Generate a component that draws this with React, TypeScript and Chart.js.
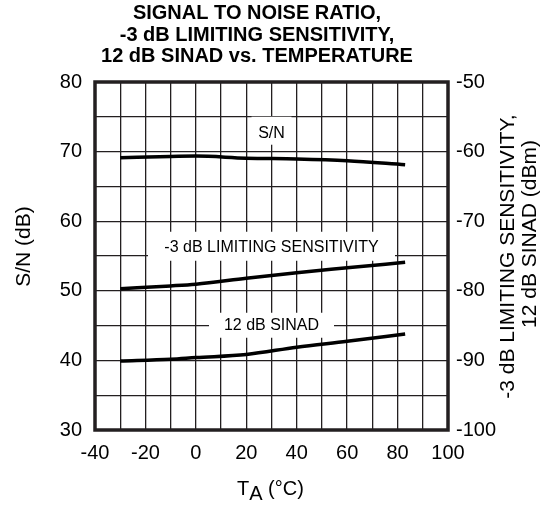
import React, { useEffect, useRef } from "react";
import { Chart, registerables } from "chart.js";

Chart.register(...registerables);

// ---- data ----
const temps = [-30, -10, 0, 20, 40, 60, 83];
const snValues = [69.1, 69.3, 69.35, 69.05, 68.95, 68.7, 68.1];
const sensValues = [-79.7, -79.3, -79.05, -78.2, -77.4, -76.7, -75.9];
const sinadValues = [-90.1, -89.85, -89.6, -89.15, -88.1, -87.25, -86.2];

const xTickLabels = [-40, -20, 0, 20, 40, 60, 80, 100];
const yLeftTickLabels = [30, 40, 50, 60, 70, 80];
const yRightTickLabels = [-100, -90, -80, -70, -60, -50];

const titleLines = [
  "SIGNAL TO NOISE RATIO,",
  "-3 dB LIMITING SENSITIVITY,",
  "12 dB SINAD vs. TEMPERATURE",
];
const leftTitle = "S/N (dB)";
const rightTitleLines = ["-3 dB LIMITING SENSITIVITY,", "12 dB SINAD (dBm)"];

const curveLabels = [
  { text: "S/N", x: 30, y: 73.0, w: 40, h: 28, ty: 133.5 },
  { text: "-3 dB LIMITING SENSITIVITY", x: 30, y: 56.4, w: 247, h: 29, ty: 247.5 },
  { text: "12 dB SINAD", x: 30, y: 45.05, w: 125, h: 25, ty: 325.5 },
];

const FONT = '"Liberation Sans", Arial, Helvetica, sans-serif';
const INK = "#231f20";

const decorPlugin = {
  id: "decor",
  beforeDatasetsDraw(chart: any) {
    const ctx = chart.ctx;
    const xs = chart.scales.x;
    const ys = chart.scales.y;
    ctx.save();
    for (const l of curveLabels) {
      const cx = xs.getPixelForValue(l.x);
      const cy = ys.getPixelForValue(l.y);
      ctx.fillStyle = "#ffffff";
      ctx.fillRect(cx - l.w / 2, cy - l.h / 2, l.w, l.h);
      ctx.fillStyle = "#000";
      ctx.font = `16px ${FONT}`;
      ctx.textAlign = "center";
      ctx.textBaseline = "middle";
      ctx.fillText(l.text, cx, l.ty);
    }
    ctx.restore();
  },
  afterDraw(chart: any) {
    const ctx = chart.ctx;
    const a = chart.chartArea;
    ctx.save();
    // plot border
    ctx.strokeStyle = INK;
    ctx.lineWidth = 3.5;
    ctx.strokeRect(a.left, a.top, a.right - a.left, a.bottom - a.top);

    // title
    ctx.fillStyle = "#000";
    ctx.font = `bold 20px ${FONT}`;
    ctx.textAlign = "center";
    ctx.textBaseline = "middle";
    const ty = [13.5, 35, 56.5];
    titleLines.forEach((t, i) => ctx.fillText(t, 257, ty[i]));

    // left title
    ctx.font = `21px ${FONT}`;
    ctx.save();
    ctx.translate(24, 246.5);
    ctx.rotate(-Math.PI / 2);
    ctx.fillText(leftTitle, 0, 0);
    ctx.restore();

    // right title
    const rpos = [
      [508, 256.5],
      [530, 234],
    ];
    rightTitleLines.forEach((t, i) => {
      ctx.save();
      ctx.translate(rpos[i][0], rpos[i][1]);
      ctx.rotate(-Math.PI / 2);
      ctx.fillText(t, 0, 0);
      ctx.restore();
    });

    // x title: T with subscript A
    ctx.font = `20px ${FONT}`;
    ctx.textAlign = "left";
    ctx.textBaseline = "alphabetic";
    let x = 237;
    ctx.fillText("T", x, 494.5);
    x += ctx.measureText("T").width;
    ctx.fillText("A", x, 500);
    x += ctx.measureText("A").width;
    ctx.fillText(" (\u00B0C)", x, 494.5);
    ctx.restore();
  },
};

export default function App() {
  const ref = useRef<HTMLCanvasElement | null>(null);
  useEffect(() => {
    if (!ref.current) return;
    const mk = (ys: number[]) => temps.map((t, i) => ({ x: t, y: ys[i] }));
    const lineStyle = {
      borderColor: "#000",
      borderWidth: 3.5,
      pointRadius: 0,
      fill: false,
      cubicInterpolationMode: "monotone" as const,
    };
    const chart = new Chart(ref.current, {
      type: "line",
      data: {
        datasets: [
          { label: "S/N", data: mk(snValues), yAxisID: "y", ...lineStyle },
          { label: "-3 dB LIMITING SENSITIVITY", data: mk(sensValues), yAxisID: "y2", ...lineStyle },
          { label: "12 dB SINAD", data: mk(sinadValues), yAxisID: "y2", ...lineStyle },
        ],
      },
      options: {
        animation: false,
        responsive: false,
        maintainAspectRatio: false,
        devicePixelRatio: 1,
        layout: { padding: { top: 82, left: 0, right: 0, bottom: 0 } },
        plugins: { legend: { display: false }, title: { display: false }, tooltip: { enabled: false } },
        scales: {
          x: {
            type: "linear",
            min: -40,
            max: 100,
            afterFit: (s: any) => { s.height = 75; },
            afterBuildTicks: (s: any) => {
              const t = [];
              for (let v = -40; v <= 100; v += 10) t.push({ value: v });
              s.ticks = t;
            },
            ticks: {
              autoSkip: false,
              maxRotation: 0,
              padding: 11,
              color: "#000",
              font: { family: FONT, size: 20 },
              callback: (v: any) => (xTickLabels.includes(Number(v)) ? String(v) : ""),
            },
            grid: { color: INK, lineWidth: 1.3, drawTicks: false },
            border: { display: false },
          },
          y: {
            type: "linear",
            position: "left",
            min: 30,
            max: 80,
            afterFit: (s: any) => { s.width = 95; },
            afterBuildTicks: (s: any) => {
              const t = [];
              for (let v = 30; v <= 80; v += 5) t.push({ value: v });
              s.ticks = t;
            },
            ticks: {
              autoSkip: false,
              padding: 13,
              color: "#000",
              font: { family: FONT, size: 20 },
              callback: (v: any) => (yLeftTickLabels.includes(Number(v)) ? String(v) : ""),
            },
            grid: { color: INK, lineWidth: 1.3, drawTicks: false },
            border: { display: false },
          },
          y2: {
            type: "linear",
            position: "right",
            min: -100,
            max: -50,
            afterFit: (s: any) => { s.width = 105; },
            afterBuildTicks: (s: any) => {
              s.ticks = yRightTickLabels.map((v) => ({ value: v }));
            },
            ticks: {
              autoSkip: false,
              padding: 8,
              color: "#000",
              font: { family: FONT, size: 20 },
              callback: (v: any) => String(v),
            },
            grid: { display: false, drawTicks: false },
            border: { display: false },
          },
        },
      },
      plugins: [decorPlugin],
    });
    return () => chart.destroy();
  }, []);
  return (
    <div style={{ position: "fixed", left: 0, top: 0, width: 553, height: 505, background: "#fff" }}>
      <canvas ref={ref} width={553} height={505} style={{ width: 553, height: 505, display: "block" }} />
    </div>
  );
}
